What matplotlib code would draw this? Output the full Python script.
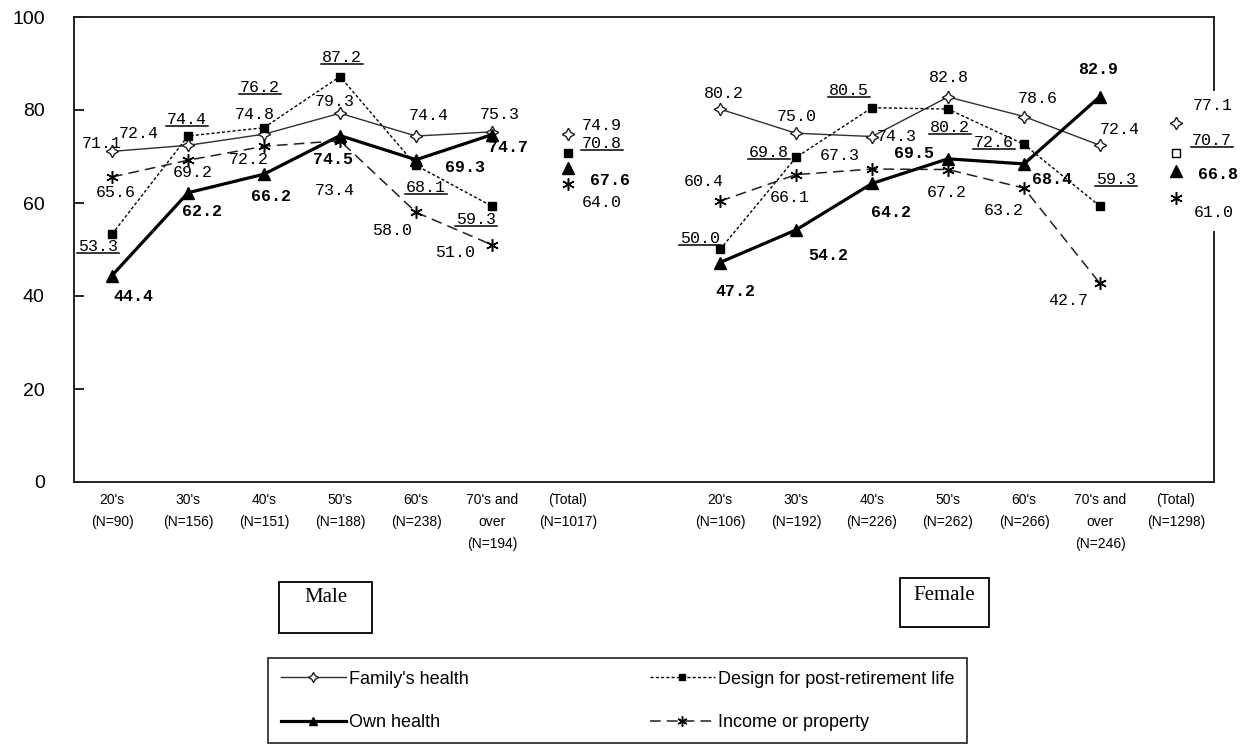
import numpy as np
import matplotlib
matplotlib.use('Agg')
import matplotlib.pyplot as plt
from matplotlib import font_manager as fm
from matplotlib.lines import Line2D
from matplotlib.patches import Rectangle
from matplotlib.transforms import IdentityTransform

# ---------------- data ----------------
age_groups = ["20's", "30's", "40's", "50's", "60's", "70's and\nover"]
male_n = [90, 156, 151, 188, 238, 194]
male_total_n = 1017
female_n = [106, 192, 226, 262, 266, 246]
female_total_n = 1298

series_names = ["Family's health", "Design for post-retirement life",
                "Own health", "Income or property"]

male_family = [71.1, 72.4, 74.8, 79.3, 74.4, 75.3]
male_design = [53.3, 74.4, 76.2, 87.2, 68.1, 59.3]
male_own = [44.4, 62.2, 66.2, 74.5, 69.3, 74.7]
male_income = [65.6, 69.2, 72.2, 73.4, 58.0, 51.0]
male_totals = [74.9, 70.8, 67.6, 64.0]

female_family = [80.2, 75.0, 74.3, 82.8, 78.6, 72.4]
female_design = [50.0, 69.8, 80.5, 80.2, 72.6, 59.3]
female_own = [47.2, 54.2, 64.2, 69.5, 68.4, 82.9]
female_income = [60.4, 66.1, 67.3, 67.2, 63.2, 42.7]
female_totals = [77.1, 70.7, 66.8, 61.0]

# ---------------- fonts ----------------
names = {f.name for f in fm.fontManager.ttflist}
NARROW = 'Liberation Sans Narrow' if 'Liberation Sans Narrow' in names else 'Liberation Sans'
MONO = 'Liberation Mono'
SERIF = 'Liberation Serif'

W, H = 1250, 745
fig = plt.figure(figsize=(W / 100, H / 100), dpi=100)
ax_l, ax_r, ax_t, ax_b = 74, 1214, 17, 482
ax = fig.add_axes([ax_l / W, 1 - ax_b / H, (ax_r - ax_l) / W, (ax_b - ax_t) / H])

# category slots: male 0..6, female 8..14
n_groups = len(age_groups)
male_x = np.arange(n_groups)
male_tot_x = n_groups
female_x = np.arange(n_groups) + n_groups + 2
female_tot_x = 2 * n_groups + 2

styles = {
    "family": dict(color='#303030', lw=1.0, ls='-', marker=(4, 1, 0), ms=9,
                   mfc='white', mec='#202020', mew=1.0),
    "design": dict(color='black', lw=1.0, ls=(0, (2.2, 1.6)), marker='s', ms=6.2,
                   mfc='black', mec='black'),
    "own": dict(color='black', lw=2.3, ls='-', marker='^', ms=8,
                mfc='black', mec='black'),
    "income": dict(color='#202020', lw=1.1, ls=(0, (7, 4)), marker=(6, 2, 0), ms=9,
                   mfc='black', mec='black', mew=1.1),
}

# label offsets in pixels (dx right, dy up): 6 age groups + total
male_off = {
    "family": [(-10, 8), (-49, 12), (-9, 20), (-5, 12), (13, 21), (8, 17), (34, 8)],
    "design": [(-14, -12), (-1, 17), (-4, 40), (2, 19), (10, -22), (-16, -13), (34, 9)],
    "own": [(21, -21), (14, -19), (7, -22), (-7, -24), (49, -8), (16, -13), (42, -13)],
    "income": [(4, -16), (5, -12), (-15, -13), (-5, -50), (-24, -18), (-37, -8), (34, -18)],
}
female_off = {
    "family": [(4, 16), (1, 17), (25, 0), (1, 19), (14, 18), (20, 16), (37, 18)],
    "design": [(-20, 11), (-27, 5), (-23, 17), (2, -18), (-30, 2), (16, 27), (36, 13)],
    "own": [(15, -29), (32, -26), (19, -29), (-34, 5), (28, -16), (-2, 27), (42, -3)],
    "income": [(-16, 20), (-6, -23), (-32, 14), (-1, -23), (-20, -22), (-32, -17), (38, -14)],
}

keys = ["family", "design", "own", "income"]
male_vals = dict(zip(keys, [male_family, male_design, male_own, male_income]))
female_vals = dict(zip(keys, [female_family, female_design, female_own, female_income]))
male_tot = dict(zip(keys, male_totals))
female_tot = dict(zip(keys, female_totals))

underlined = []
handles = {}
for k, name in zip(keys, series_names):
    st = styles[k]
    bold = 'bold' if k == "own" else 'normal'
    for xs, vals, tx, tv, offs, grp in [
        (male_x, male_vals[k], male_tot_x, male_tot[k], male_off[k], 'm'),
        (female_x, female_vals[k], female_tot_x, female_tot[k], female_off[k], 'f'),
    ]:
        ln, = ax.plot(xs, vals, color=st['color'], lw=st['lw'], ls=st['ls'],
                      marker=st['marker'], ms=st['ms'], mfc=st['mfc'],
                      mec=st['mec'], mew=st.get('mew', 1.0), zorder=3, clip_on=False)
        handles[k] = ln
        tot_mfc = st['mfc']
        if k == "design" and grp == 'f':
            tot_mfc = 'white'
        ax.plot([tx], [tv], ls='none', marker=st['marker'], ms=st['ms'],
                mfc=tot_mfc, mec=st['mec'], mew=st.get('mew', 1.0), zorder=3, clip_on=False)
        allx = list(xs) + [tx]
        allv = list(vals) + [tv]
        for xx, vv, (dx, dy) in zip(allx, allv, offs):
            t = ax.annotate(f"{vv:.1f}", (xx, vv), xytext=(dx, dy),
                            textcoords='offset pixels', ha='center', va='center',
                            fontsize=12, family=MONO, fontweight=bold, zorder=4)
            if k == "design":
                underlined.append(t)

ax.set_xlim(-0.5, 2 * n_groups + 2.5)
ax.set_ylim(0, 100)
ax.set_yticks(np.arange(0, 101, 20))
ax.tick_params(axis='y', direction='in', length=7, width=1.2, pad=21, labelsize=14)
for lab in ax.get_yticklabels():
    lab.set_family(NARROW)

xt = list(male_x) + [male_tot_x] + list(female_x) + [female_tot_x]
xl = ([f"{g}\n(N={n})" for g, n in zip(age_groups, male_n)] + [f"(Total)\n(N={male_total_n})"] +
      [f"{g}\n(N={n})" for g, n in zip(age_groups, female_n)] + [f"(Total)\n(N={female_total_n})"])
ax.set_xticks(xt)
ax.set_xticklabels(xl, family=NARROW, fontsize=10, linespacing=1.7, va='top')
ax.tick_params(axis='x', length=0, pad=8)

for s in ['left', 'top', 'bottom']:
    ax.spines[s].set_linewidth(1.4)
    ax.spines[s].set_color('#222222')
ax.spines['right'].set_visible(False)
gap_lo = (ax_b - 232) / (ax_b - ax_t)
gap_hi = (ax_b - 90) / (ax_b - ax_t)
ax.plot([1, 1], [0, gap_lo], transform=ax.transAxes, color='#222222', lw=1.4, clip_on=False)
ax.plot([1, 1], [gap_hi, 1], transform=ax.transAxes, color='#222222', lw=1.4, clip_on=False)

# group boxes
def fig_box(x0, y0, x1, y1, text, ty):
    fig.add_artist(Rectangle((x0 / W, 1 - y1 / H), (x1 - x0) / W, (y1 - y0) / H,
                             transform=fig.transFigure, fill=False, ec='black', lw=1.3))
    fig.text((x0 + x1) / 2 / W, 1 - ty / H, text, ha='center', va='center',
             family=SERIF, fontsize=15)

fig_box(279, 582, 372, 633, "Male", 597)
fig_box(900, 578, 989, 627, "Female", 595)

# legend
leg_handles = [handles["family"], handles["own"], handles["design"], handles["income"]]
leg_labels = [series_names[0], series_names[2], series_names[1], series_names[3]]
leg = fig.legend(leg_handles, leg_labels, ncol=2, loc='upper left',
                 bbox_to_anchor=(268 / W, 1 - 658 / H), borderaxespad=0,
                 frameon=True, fancybox=False, edgecolor='black',
                 prop={'family': NARROW, 'size': 13},
                 handlelength=3.6, handletextpad=0.2, columnspacing=10.0,
                 labelspacing=1.45, borderpad=0.7, markerscale=0.8)
leg.get_frame().set_linewidth(1.3)

# underline the design labels
fig.canvas.draw()
r = fig.canvas.get_renderer()
for t in underlined:
    bb = t.get_window_extent(r)
    y = bb.y0 + 1
    fig.add_artist(Line2D([bb.x0 - 1, bb.x1 + 1], [y, y], transform=IdentityTransform(),
                          color='black', lw=1.1))

fig.savefig('out.png', dpi=100)
